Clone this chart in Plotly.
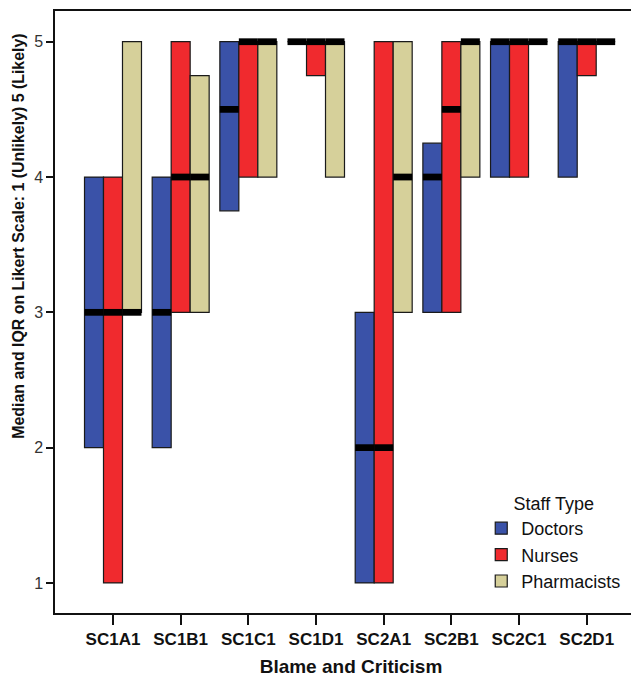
import plotly.graph_objects as go

categories = ["SC1A1", "SC1B1", "SC1C1", "SC1D1", "SC2A1", "SC2B1", "SC2C1", "SC2D1"]

doctors_q1 = [2, 2, 3.75, 5, 1, 3, 4, 4]
doctors_q3 = [4, 4, 5, 5, 3, 4.25, 5, 5]
doctors_med = [3, 3, 4.5, 5, 2, 4, 5, 5]

nurses_q1 = [1, 3, 4, 4.75, 1, 3, 4, 4.75]
nurses_q3 = [4, 5, 5, 5, 5, 5, 5, 5]
nurses_med = [3, 4, 5, 5, 2, 4.5, 5, 5]

pharm_q1 = [3, 3, 4, 4, 3, 4, 5, 5]
pharm_q3 = [5, 4.75, 5, 5, 5, 5, 5, 5]
pharm_med = [3, 4, 5, 5, 4, 5, 5, 5]

groups = [
    ("Doctors", doctors_q1, doctors_q3, doctors_med, "#3a52a8"),
    ("Nurses", nurses_q1, nurses_q3, nurses_med, "#f02a2e"),
    ("Pharmacists", pharm_q1, pharm_q3, pharm_med, "#d6d09a"),
]

MED_H = 0.05  # thickness of the median mark in data units

fig = go.Figure()
for name, q1, q3, med, col in groups:
    fig.add_trace(go.Bar(
        name=name, x=categories, base=q1,
        y=[b - a for a, b in zip(q1, q3)],
        offsetgroup=name, marker=dict(color=col, line=dict(color="#1a1a1a", width=1.2)),
    ))
for name, q1, q3, med, col in groups:
    fig.add_trace(go.Bar(
        name=name + " median", x=categories, base=[m - MED_H / 2 for m in med],
        y=[MED_H] * len(med), offsetgroup=name, showlegend=False,
        marker=dict(color="black", line=dict(color="black", width=0)),
    ))

fig.update_layout(
    width=639, height=684,
    margin=dict(l=47, r=0, t=3, b=79),
    paper_bgcolor="white", plot_bgcolor="white",
    barmode="group", bargap=0.158, bargroupgap=0,
    font=dict(family="Liberation Sans, Arial, sans-serif", color="#111111"),
    showlegend=True,
    legend=dict(
        title=dict(text="Staff Type", side="top center", font=dict(size=18, color="#111111")),
        font=dict(size=18, color="#111111"),
        x=0.72, y=0.21, xanchor="left", yanchor="top",
        bgcolor="rgba(0,0,0,0)", tracegroupgap=0, itemwidth=30,
    ),
    xaxis=dict(
        range=[-0.857, 7.891], showline=True, linecolor="#111111", linewidth=1.5,
        mirror=True, ticks="outside", ticklen=10, tickwidth=1.5, tickcolor="#111111",
        tickfont=dict(size=17, weight="bold", color="#111111"),
        showgrid=False, zeroline=False,
        title=dict(text="Blame and Criticism", font=dict(size=19, weight="bold", color="#111111"), standoff=12),
    ),
    yaxis=dict(
        range=[0.778, 5.227], showline=True, linecolor="#111111", linewidth=1.5,
        mirror=False, ticks="outside", ticklen=7, tickwidth=1.5, tickcolor="#111111",
        tickvals=[1, 2, 3, 4, 5], tickfont=dict(size=16, color="#333333"),
        showgrid=False, zeroline=False,
    ),
    annotations=[dict(
        text="<b>Median and IQR on Likert Scale: 1 (Unlikely) 5 (Likely)</b>",
        xref="paper", yref="paper", x=-0.0608, y=0.625, xanchor="center", yanchor="middle",
        textangle=-90, showarrow=False, font=dict(size=15.9, color="#111111"),
    )],
)

fig.write_html("out.html")
